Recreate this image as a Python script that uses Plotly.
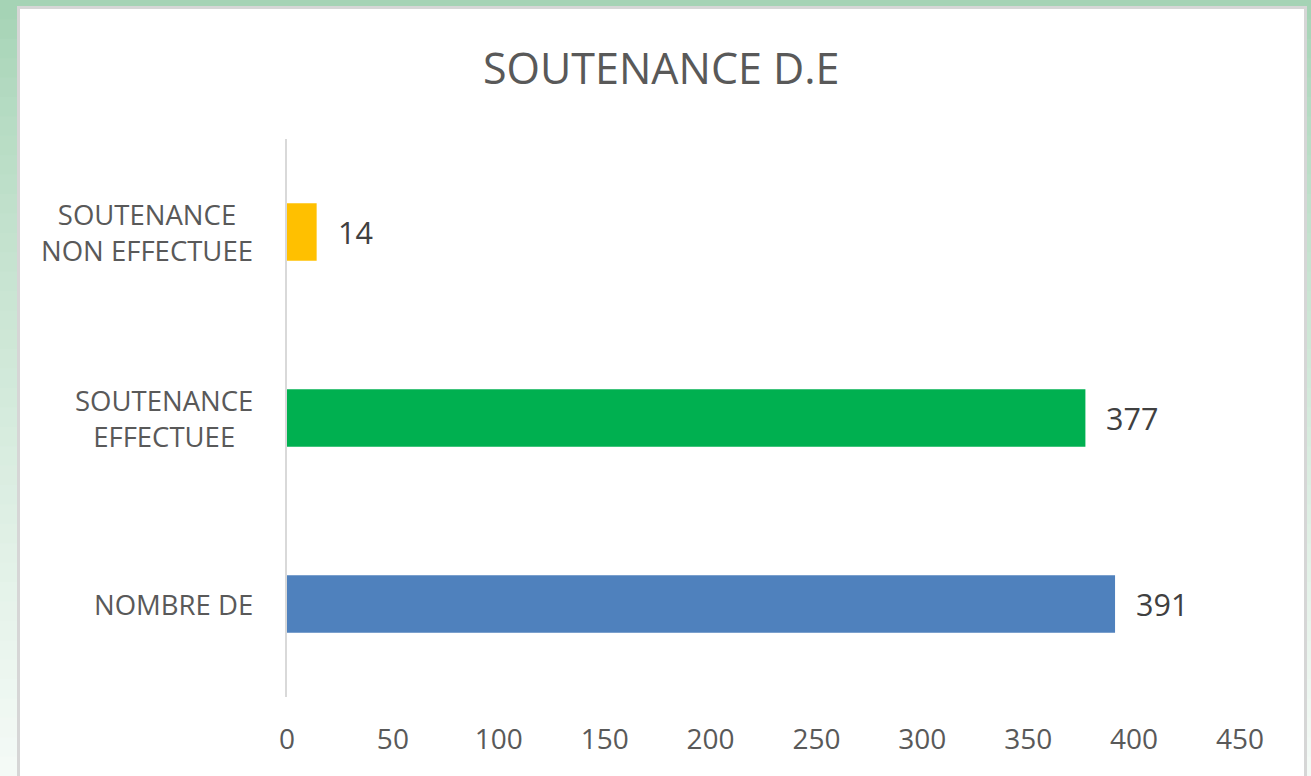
import plotly.graph_objects as go

categories = ["NOMBRE DE", "SOUTENANCE EFFECTUEE", "SOUTENANCE NON EFFECTUEE"]
category_labels = ["NOMBRE DE", "SOUTENANCE<br>EFFECTUEE", "SOUTENANCE<br>NON EFFECTUEE"]
values = [391, 377, 14]
bar_colors = ["#4f81bd", "#00b050", "#ffc000"]
x_ticks = [0, 50, 100, 150, 200, 250, 300, 350, 400, 450]
title_text = "SOUTENANCE D.E"

W, H = 1311, 776
L, R, T, B = 287, 1240, 139, 697
FONT = "Open Sans"
GREY = "#595959"

def px_x(p):
    return (p - L) / (R - L)

def px_y(p):
    return (B - p) / (B - T)

fig = go.Figure()
fig.add_trace(go.Bar(
    y=categories, x=values, orientation="h",
    marker=dict(color=bar_colors, line=dict(width=0)),
    width=0.31, hoverinfo="x+y",
))

shapes = []
# green gradient background
n = 40
c0 = (0xa5, 0xd3, 0xb5)
c1 = (0xf4, 0xfa, 0xf6)
for i in range(n):
    t = i / (n - 1)
    t2 = t ** 0.8
    col = "rgb(%d,%d,%d)" % tuple(int(round(a + (b - a) * t2)) for a, b in zip(c0, c1))
    y0 = i * H / n
    y1 = (i + 1) * H / n + 1
    shapes.append(dict(type="rect", xref="paper", yref="paper", layer="below",
                       x0=px_x(-5), x1=px_x(W + 5), y0=px_y(y1), y1=px_y(y0),
                       fillcolor=col, line=dict(width=0)))
# white panel
shapes.append(dict(type="rect", xref="paper", yref="paper", layer="below",
                   x0=px_x(18.5), x1=px_x(1305.5), y0=px_y(800), y1=px_y(7.5),
                   fillcolor="white", line=dict(color="#d6d6d6", width=3)))

annotations = []
for cat, lab in zip(categories, category_labels):
    annotations.append(dict(x=px_x(255), xref="paper", y=cat, yref="y",
                            text=lab, showarrow=False, xanchor="right", yanchor="middle",
                            align="center", font=dict(family=FONT, size=27.5, color=GREY)))
for cat, v in zip(categories, values):
    annotations.append(dict(x=v, xref="x", y=cat, yref="y", text=str(v),
                            showarrow=False, xanchor="left", yanchor="middle",
                            xshift=19, font=dict(family=FONT, size=30.5, color="#404040")))
annotations.append(dict(x=px_x(661), xref="paper", y=px_y(68), yref="paper",
                        text=title_text, showarrow=False, xanchor="center", yanchor="middle",
                        font=dict(family=FONT, size=43, color=GREY)))

fig.update_layout(
    width=W, height=H,
    margin=dict(l=L, r=W - R, t=T, b=H - B, pad=0),
    paper_bgcolor="white", plot_bgcolor="rgba(0,0,0,0)",
    showlegend=False,
    shapes=shapes,
    annotations=annotations,
    xaxis=dict(range=[0, 450], tickvals=x_ticks, showgrid=False, zeroline=False,
               showline=False, ticks="", ticklabelstandoff=23,
               tickfont=dict(family=FONT, size=28, color=GREY), fixedrange=True),
    yaxis=dict(categoryorder="array", categoryarray=categories, range=[-0.5, 2.5],
               showticklabels=False, showgrid=False, zeroline=False,
               showline=True, linecolor="#d9d9d9", linewidth=2, ticks="", fixedrange=True),
)

fig.write_html("out.html", config={"displayModeBar": False},
               post_script="document.body.style.margin='0';document.body.style.overflow='hidden';")
